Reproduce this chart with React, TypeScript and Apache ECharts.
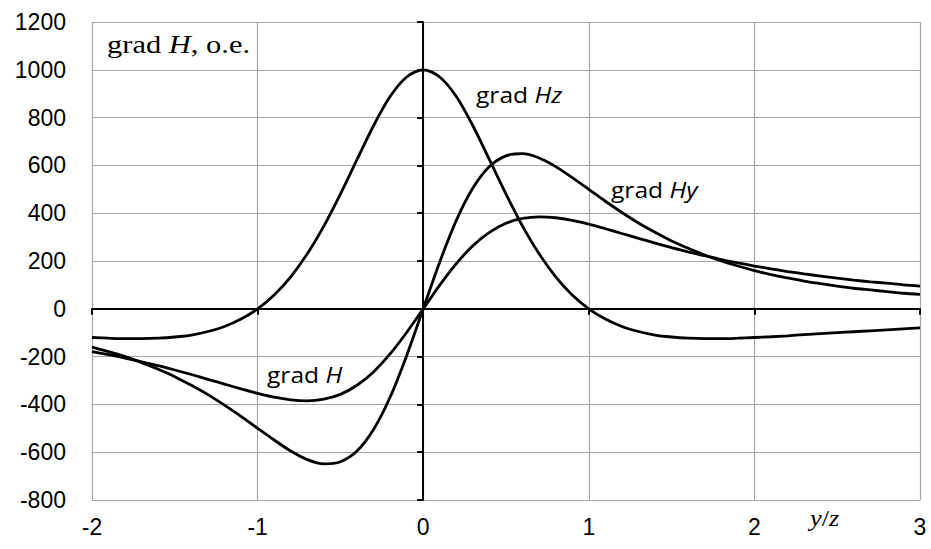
import React, { useEffect, useRef } from "react";
import * as echarts from "echarts";

// x positions (y/z) at which the curves were read
const xValues = [
  -2.0, -1.9, -1.8, -1.7, -1.6, -1.5, -1.4, -1.3, -1.2, -1.1,
  -1.0, -0.9, -0.8, -0.7, -0.6, -0.5, -0.4, -0.3, -0.2, -0.1,
  0.0, 0.1, 0.2, 0.3, 0.4, 0.5, 0.6, 0.7, 0.8, 0.9,
  1.0, 1.1, 1.2, 1.3, 1.4, 1.5, 1.6, 1.7, 1.8, 1.9,
  2.0, 2.1, 2.2, 2.3, 2.4, 2.5, 2.6, 2.7, 2.8, 2.9, 3.0,
];

const gradHz = [
  -120, -123, -125, -125, -123, -118, -110, -95, -74, -43,
  0, 58, 134, 230, 346, 480, 624, 766, 888, 970,
  1000, 970, 888, 766, 624, 480, 346, 230, 134, 58,
  0, -43, -74, -95, -110, -118, -123, -125, -125, -123,
  -120, -117, -113, -108, -104, -100, -96, -92, -88, -84, -80,
];

const gradHy = [
  -160, -179, -200, -225, -253, -284, -320, -359, -403, -450,
  -500, -549, -595, -631, -649, -640, -595, -505, -370, -196,
  0, 196, 370, 505, 595, 640, 649, 631, 595, 549,
  500, 450, 403, 359, 320, 284, 253, 225, 200, 179,
  160, 143, 129, 116, 105, 95, 86, 79, 72, 65, 60,
];

const gradH = [
  -179, -192, -206, -222, -238, -256, -275, -295, -315, -335,
  -354, -370, -381, -385, -378, -358, -320, -264, -189, -99,
  0, 99, 189, 264, 320, 358, 378, 385, 381, 370,
  354, 335, 315, 295, 275, 256, 238, 222, 206, 192,
  179, 167, 156, 146, 137, 128, 120, 113, 107, 100, 95,
];

const xMin = -2;
const xMax = 3;
const xStep = 1;
const yMin = -800;
const yMax = 1200;
const yStep = 200;

const sans = "'Liberation Sans', Arial, sans-serif";
const serif = "'Liberation Serif', 'Times New Roman', serif";
const annot = "'Open Sans', 'Noto Sans', sans-serif";

function pairs(ys: number[]) {
  return xValues.map((x, i) => [x, ys[i]]);
}

export default function App() {
  const ref = useRef<HTMLDivElement>(null);

  useEffect(() => {
    document.body.style.margin = "0";
    if (!ref.current) return;
    const chart = echarts.init(ref.current, undefined, { renderer: "svg" });

    const lineSeries = (name: string, ys: number[]) => ({
      name,
      type: "line",
      data: pairs(ys),
      smooth: 0.3,
      showSymbol: false,
      symbol: "none",
      xAxisIndex: 0,
      yAxisIndex: 0,
      lineStyle: { color: "#000", width: 2.8 },
      z: 5,
    });

    const annotation = (x: number, y: number, parts: [string, boolean][], size: number) => ({
      type: "text",
      x,
      y,
      scaleX: 1.12,
      style: {
        text: parts.map(([t, it]) => `{${it ? "i" : "r"}|${t}}`).join(""),
        verticalAlign: "middle",
        rich: {
          r: { fontFamily: annot, fontSize: size, fill: "#000" },
          i: { fontFamily: annot, fontSize: size, fontStyle: "italic", fill: "#000" },
        },
      },
      z: 10,
    });

    chart.setOption({
      animation: false,
      backgroundColor: "#fff",
      grid: { left: 92, right: 11, top: 22, bottom: 49, containLabel: false },
      xAxis: [
        {
          type: "value",
          min: xMin,
          max: xMax,
          interval: xStep,
          position: "bottom",
          axisLine: { show: false },
          axisTick: { show: false },
          axisLabel: { fontFamily: sans, fontSize: 23, color: "#000", margin: 15, formatter: (v: number) => String(v) },
          splitLine: { show: true, lineStyle: { color: "#a6a6a6", width: 1.2 } },
        },
        {
          type: "value",
          min: xMin,
          max: xMax,
          interval: xStep,
          position: "bottom",
          axisLine: { show: true, onZero: true, onZeroAxisIndex: 0, lineStyle: { color: "#000", width: 2 } },
          axisTick: { show: true, inside: false, length: 6, lineStyle: { color: "#000", width: 2 } },
          axisLabel: { show: false },
          splitLine: { show: false },
        },
      ],
      yAxis: [
        {
          type: "value",
          min: yMin,
          max: yMax,
          interval: yStep,
          position: "left",
          axisLine: { show: false },
          axisTick: { show: false },
          axisLabel: { fontFamily: sans, fontSize: 23, color: "#000", margin: 26, formatter: (v: number) => String(v) },
          splitLine: { show: true, lineStyle: { color: "#a6a6a6", width: 1.2 } },
        },
        {
          type: "value",
          min: yMin,
          max: yMax,
          interval: yStep,
          position: "left",
          axisLine: { show: true, onZero: true, onZeroAxisIndex: 0, lineStyle: { color: "#000", width: 2 } },
          axisTick: { show: true, inside: false, length: 6, lineStyle: { color: "#000", width: 2 } },
          axisLabel: { show: false },
          splitLine: { show: false },
        },
      ],
      series: [
        lineSeries("grad Hz", gradHz),
        lineSeries("grad Hy", gradHy),
        lineSeries("grad H", gradH),
      ],
      graphic: [
        {
          type: "text",
          x: 107,
          y: 44,
          scaleX: 1.22,
          style: {
            text: "{r|grad }{i|H}{r|, o.e.}",
            verticalAlign: "middle",
            rich: {
              r: { fontFamily: serif, fontSize: 25, fill: "#000" },
              i: { fontFamily: serif, fontSize: 25, fontStyle: "italic", fill: "#000" },
            },
          },
          z: 10,
        },
        annotation(476, 95, [["grad ", false], ["Hz", true]], 22),
        annotation(611, 190, [["grad ", false], ["Hy", true]], 22),
        annotation(267, 375, [["grad ", false], ["H", true]], 22),
        {
          type: "text",
          x: 810,
          y: 518,
          scaleX: 1.1,
          style: {
            text: "{i|y}{r|/}{i|z}",
            verticalAlign: "middle",
            rich: {
              r: { fontFamily: serif, fontSize: 24, fill: "#000" },
              i: { fontFamily: serif, fontSize: 24, fontStyle: "italic", fill: "#000" },
            },
          },
          z: 10,
        },
      ],
    });

    return () => chart.dispose();
  }, []);

  return <div ref={ref} style={{ width: 931, height: 549 }} />;
}
